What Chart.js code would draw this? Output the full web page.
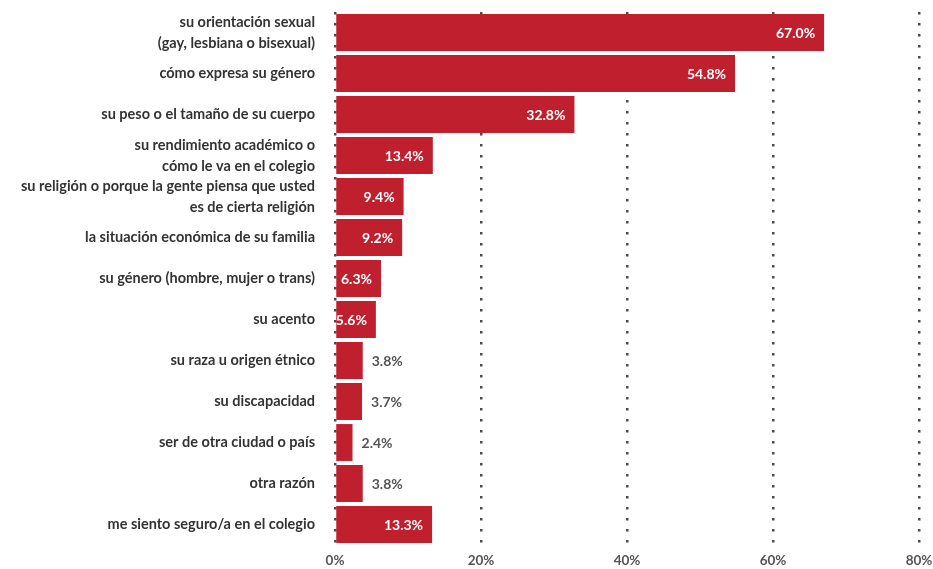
<!DOCTYPE html>
<html>
<head>
<meta charset="utf-8">
<script src="https://cdn.jsdelivr.net/npm/chart.js@4.4.1/dist/chart.umd.min.js"></script>
<style>
  html, body { margin: 0; padding: 0; background: #fff; }
  #wrap { width: 933px; height: 569px; position: relative; }
</style>
</head>
<body>
<div id="wrap"><canvas id="grafico"></canvas></div>
<script>
// motivos por los que se siente inseguro/a
const categorias = [
  ['su orientación sexual', '(gay, lesbiana o bisexual)'],
  'cómo expresa su género',
  'su peso o el tamaño de su cuerpo',
  ['su rendimiento académico o', 'cómo le va en el colegio'],
  ['su religión o porque la gente piensa que usted', 'es de cierta religión'],
  'la situación económica de su familia',
  'su género (hombre, mujer o trans)',
  'su acento',
  'su raza u origen étnico',
  'su discapacidad',
  'ser de otra ciudad o país',
  'otra razón',
  'me siento seguro/a en el colegio'
];
const porcentajes = [67.0, 54.8, 32.8, 13.4, 9.4, 9.2, 6.3, 5.6, 3.8, 3.7, 2.4, 3.8, 13.3];
const ticksX = [0, 20, 40, 60, 80];

const fuente = 'Lato, "Open Sans", sans-serif';

// etiquetas de valor: dentro de la barra (blanco) o fuera (gris)
const etiquetasValor = {
  id: 'etiquetasValor',
  afterDatasetsDraw(chart) {
    const ctx = chart.ctx;
    const meta = chart.getDatasetMeta(0);
    ctx.save();
    ctx.font = 'bold 14px ' + fuente;
    ctx.textBaseline = 'middle';
    meta.data.forEach(function (barra, i) {
      const v = porcentajes[i];
      const txt = v.toFixed(1) + '%';
      if (v >= 5) {
        ctx.fillStyle = '#ffffff';
        ctx.textAlign = 'right';
        ctx.fillText(txt, barra.x - 9, barra.y + 1);
      } else {
        ctx.fillStyle = '#555555';
        ctx.textAlign = 'left';
        ctx.fillText(txt, barra.x + 9, barra.y + 1);
      }
    });
    ctx.restore();
  }
};

new Chart(document.getElementById('grafico'), {
  type: 'bar',
  data: {
    labels: categorias,
    datasets: [{
      data: porcentajes,
      backgroundColor: '#c0202e',
      borderWidth: 0,
      barPercentage: 0.9,
      categoryPercentage: 1.0
    }]
  },
  options: {
    indexAxis: 'y',
    responsive: true,
    maintainAspectRatio: false,
    animation: false,
    layout: { padding: { top: 12, right: 14, left: 0, bottom: 0 } },
    plugins: {
      legend: { display: false },
      tooltip: { enabled: false }
    },
    scales: {
      x: {
        min: 0,
        max: 80,
        afterBuildTicks: function (scale) {
          scale.ticks = ticksX.map(function (v) { return { value: v }; });
        },
        afterFit: function (scale) {
          scale.height = 24;
          scale.paddingLeft = 0;
          scale.paddingRight = 0;
        },
        ticks: {
          callback: function (v) { return v + '%'; },
          color: '#555555',
          font: { family: fuente, size: 13.5, weight: 'bold' },
          padding: 8,
          maxRotation: 0
        },
        grid: {
          color: '#4a4a4a',
          lineWidth: 2.5,
          drawTicks: false
        },
        border: { display: false, dash: [2.5, 8.5] }
      },
      y: {
        afterFit: function (scale) {
          scale.width = 335;
          scale.paddingTop = 0;
          scale.paddingBottom = 0;
        },
        ticks: {
          color: '#333333',
          font: { family: fuente, size: 14.5, weight: 'bold', lineHeight: 1.45 },
          padding: 20,
          autoSkip: false
        },
        grid: { display: false, drawTicks: false },
        border: { display: false }
      }
    }
  },
  plugins: [etiquetasValor]
});
</script>
</body>
</html>
